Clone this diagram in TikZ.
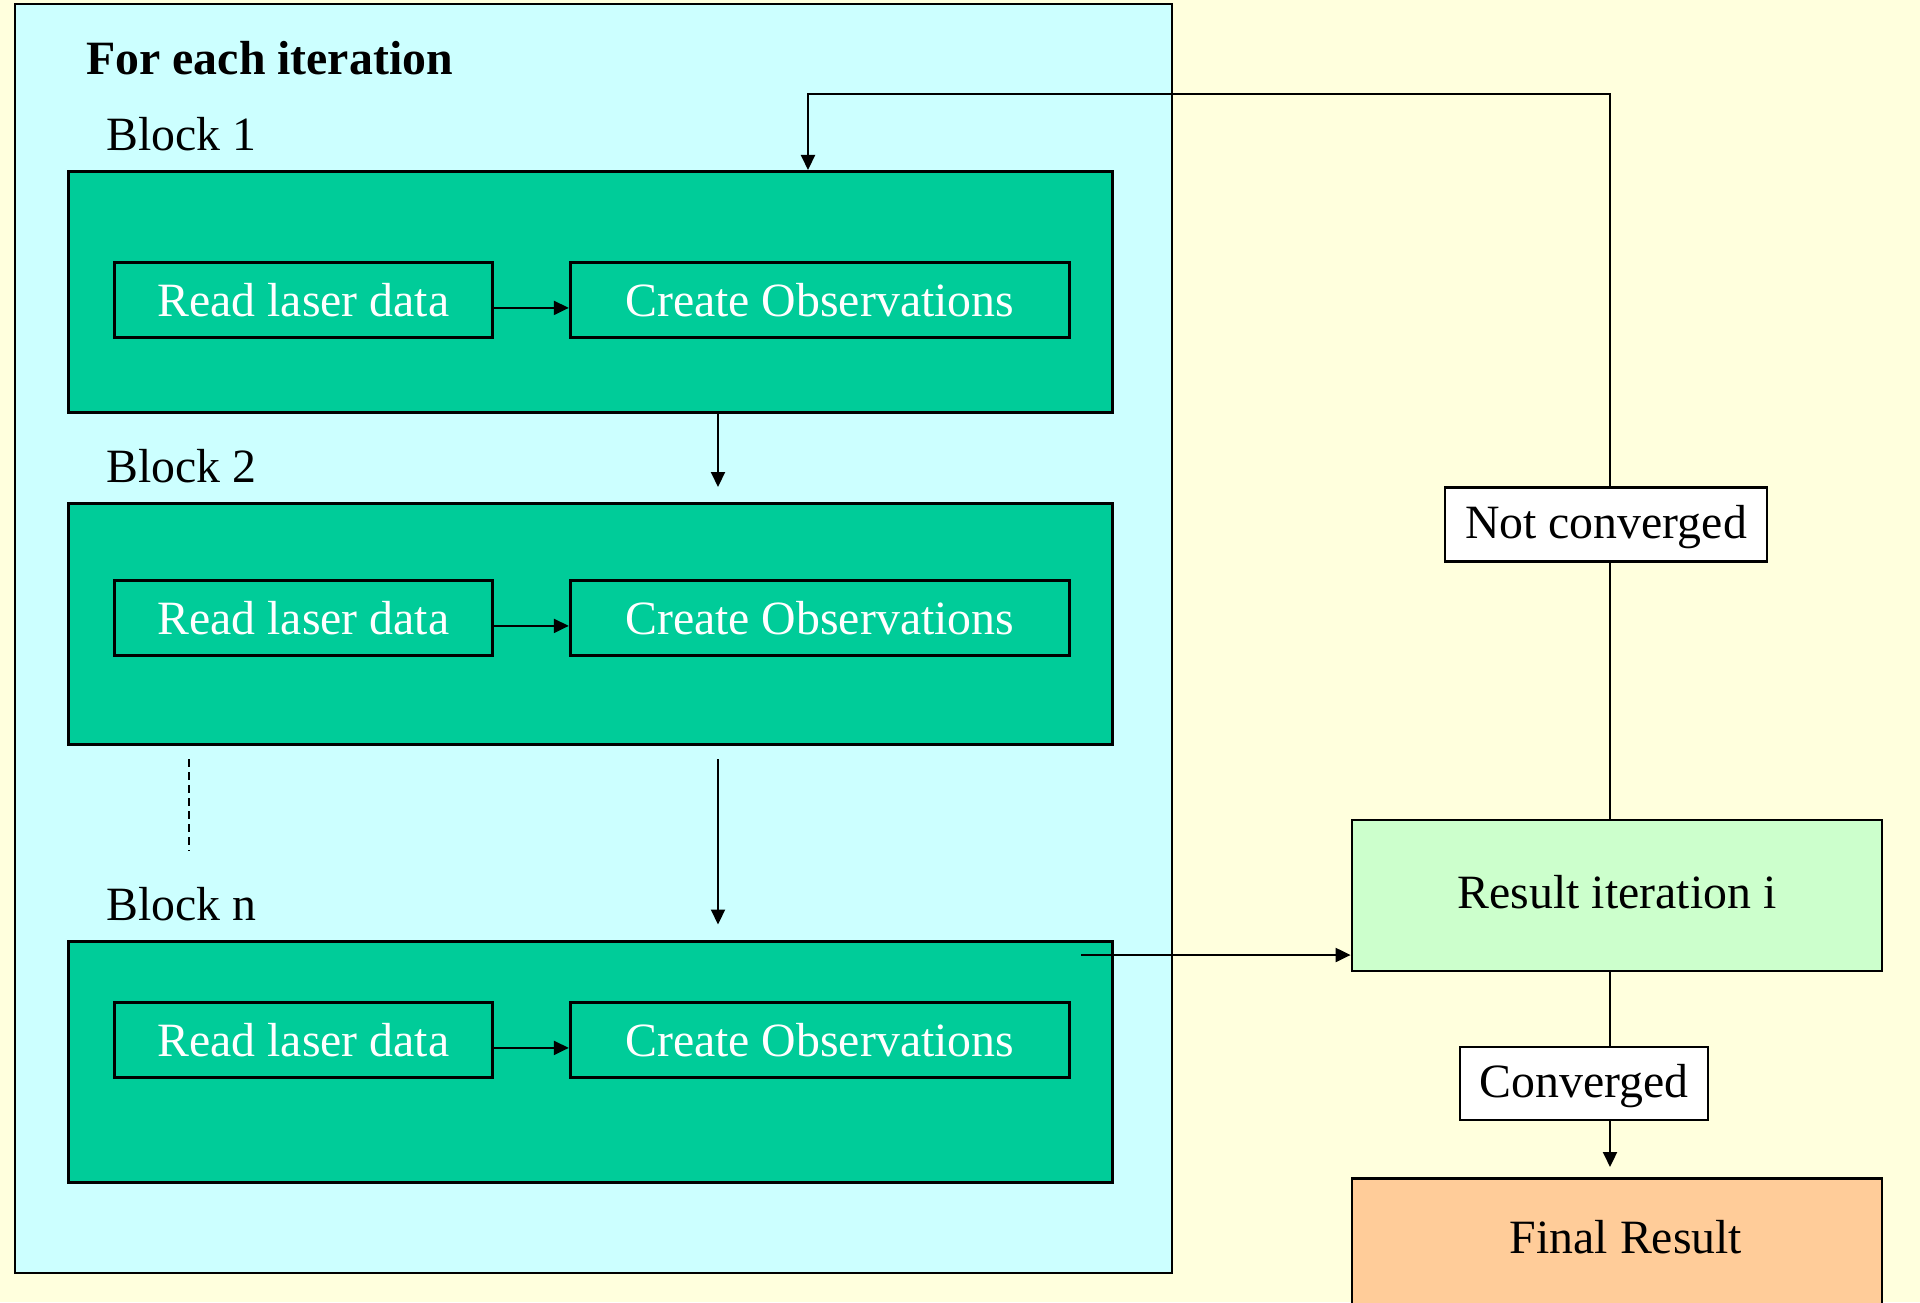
\documentclass[tikz,border=0pt]{standalone}
\usepackage{fontspec}
\setmainfont{Liberation Serif}
\usepackage{tikz}
\usetikzlibrary{arrows.meta,positioning,calc}
\definecolor{bgx}{HTML}{FFFFDD}
\definecolor{cyanx}{HTML}{CCFFFF}
\definecolor{greenx}{HTML}{00CC99}
\definecolor{mintx}{HTML}{CCFFCC}
\definecolor{peachx}{HTML}{FFCC99}
\tikzset{
  blk/.style={draw,line width=0.8pt,fill=greenx,minimum width=10.44cm,minimum height=2.41cm,inner sep=0pt},
  rd/.style={draw,line width=0.8pt,text=white,minimum width=3.78cm,minimum height=0.75cm,inner sep=0pt},
  co/.style={rd,minimum width=4.99cm},
  tg/.style={draw,line width=0.8pt,fill=white,minimum height=0.74cm,inner sep=0pt,text height=0.99em,text depth=0.22em},
  res/.style={draw,line width=0.8pt,minimum width=5.30cm,inner sep=0pt},
  ar/.style={-{Triangle[length=1.5mm,width=1.4mm]},line width=0.6pt},
  ln/.style={line width=0.6pt}
}

\begin{document}
\begin{tikzpicture}[font=\fontsize{13.6pt}{16pt}\selectfont]
\useasboundingbox[fill=bgx] (0,0) rectangle (19.2,-13.02);
\draw[line width=0.8pt,fill=cyanx] (0.15,-0.04) rectangle (11.72,-12.73);
\node[anchor=west,font=\fontsize{13.6pt}{16pt}\selectfont\bfseries] (ttl) at (0.74,-0.58) {For each iteration};

% the blocks of one iteration
\foreach \i/\k/\y/\d in {1/1/1.70/0.91,2/2/5.02/0.77,3/n/9.40/0.61}{
  \node[blk,anchor=north west] (b\i) at (0.67,-\y) {};
  \node[anchor=west] (l\i) at ($(b\i.north west)+(0.27,0.36)$) {Block \k};
  \node[rd,below right=\d cm and 0.46cm of b\i.north west] (r\i) {Read laser data};
  \node[co,right=0.75cm of r\i] (c\i) {Create Observations};
  \draw[ar] ([yshift=-0.8mm]r\i.east) -- ([yshift=-0.8mm]c\i.west);
}
\coordinate (d1) at (7.18,-4.87);
\draw[ar] (b1.south -| d1) -- (d1);
\coordinate (d2) at (7.18,-7.59);
\coordinate (d3) at (7.18,-9.245);
\draw[ar] (d2) -- (d3);
\coordinate (v1) at (1.89,-7.59);
\coordinate (v2) at (1.89,-8.51);
\draw[ln,dash pattern=on 2.3pt off 1.4pt] (v1) -- (v2);

% result side
\node[res,fill=mintx,minimum height=1.51cm,text depth=0.2em] (ri) at (16.17,-8.955) {Result iteration i};
\node[tg,minimum width=3.22cm] (nc) at (16.06,-5.245) {Not converged};
\node[tg,minimum width=2.48cm,minimum height=0.73cm] (cv) at (15.84,-10.835) {Converged};
\node[res,fill=peachx,minimum height=2cm,anchor=north] (fr) at (16.17,-11.77) {};
\node (frt) at (16.26,-12.37) {Final Result};

\coordinate (o) at (10.81,-9.55);
\draw[ar] (o) -- (o -| ri.west);
\coordinate (fb) at (16.10,-0.94);
\coordinate (fb2) at (8.08,-0.94);
\draw[ln] (ri.north -| fb) -- (nc.south -| fb);
\draw[ar] (nc.north -| fb) -- (fb) -- (fb2) -- (b1.north -| fb2);
\draw[ln] (ri.south -| fb) -- (cv.north -| fb);
\draw[ar] (cv.south -| fb) -- ($(fr.north -| fb)+(0,0.1)$);
\end{tikzpicture}
\end{document}
